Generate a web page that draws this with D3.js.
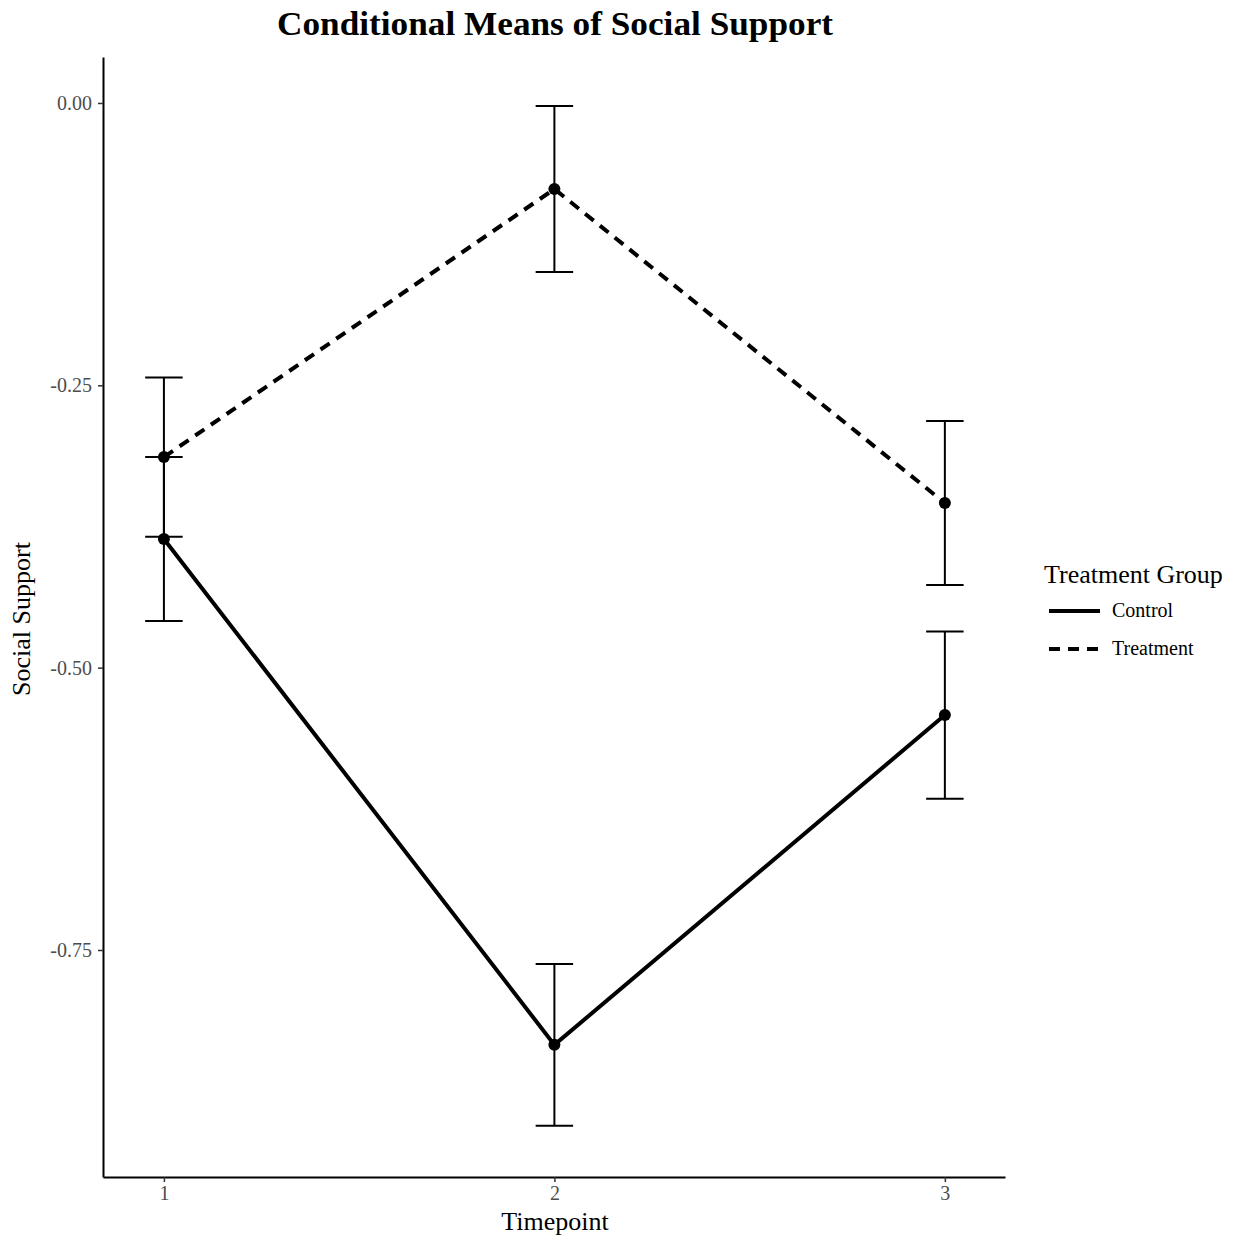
<!DOCTYPE html>
<html><head><meta charset="utf-8">
<script src="https://cdn.jsdelivr.net/npm/d3@7"></script>
<style>body{margin:0;background:#fff}svg{display:block}</style>
</head><body>
<script>
const timepoints = [1, 2, 3];
const groups = ["Control", "Treatment"];
const controlMean = [-0.386, -0.834, -0.542];
const controlSE = [0.0726, 0.0717, 0.074];
const treatmentMean = [-0.3135, -0.0762, -0.3542];
const treatmentSE = [0.0705, 0.0735, 0.0726];
const yTicks = [0, -0.25, -0.5, -0.75];
const yTickLabels = ["0.00", "-0.25", "-0.50", "-0.75"];

const W = 1239, H = 1243;
const svg = d3.select("body").append("svg").attr("width", W).attr("height", H);
const x = d3.scaleLinear().domain([0.844, 3.154]).range([103, 1005]);
const y = d3.scaleLinear().domain([-0.951, 0.0407]).range([1177, 57]);
const serif = "'Liberation Serif','Times New Roman',serif";

// axes
const xAxis = svg.append("g").attr("transform", "translate(0,1177)")
  .call(d3.axisBottom(x).tickValues(timepoints).tickFormat(d3.format("d")).tickSize(5).tickSizeOuter(0).tickPadding(4));
const yAxis = svg.append("g").attr("transform", "translate(103,0)")
  .call(d3.axisLeft(y).tickValues(yTicks).tickFormat((d, i) => yTickLabels[i]).tickSize(5).tickSizeOuter(0).tickPadding(6));
[xAxis, yAxis].forEach(g => {
  g.select(".domain").attr("stroke", "#000").attr("stroke-width", 2);
  g.selectAll(".tick line").attr("stroke", "#333").attr("stroke-width", 1.5);
  g.selectAll(".tick text").attr("fill", "#4d4d4d").style("font-family", serif).style("font-size", "20px");
});

const series = [
  {name: "Control", mean: controlMean, se: controlSE, dash: null},
  {name: "Treatment", mean: treatmentMean, se: treatmentSE, dash: "11,8"}
];
const line = d3.line().x(d => x(d.t)).y(d => y(d.m));
series.forEach(s => {
  const pts = timepoints.map((t, i) => ({t, m: s.mean[i], se: s.se[i]}));
  svg.append("path").datum(pts).attr("d", line).attr("fill", "none")
    .attr("stroke", "#000").attr("stroke-width", 4)
    .attr("stroke-dasharray", s.dash);
  const eb = svg.append("g");
  pts.forEach(p => {
    eb.append("line").attr("x1", x(p.t)).attr("x2", x(p.t)).attr("y1", y(p.m + p.se)).attr("y2", y(p.m - p.se))
      .attr("stroke", "#000").attr("stroke-width", 2);
    [p.m + p.se, p.m - p.se].forEach(v => {
      eb.append("line").attr("x1", x(p.t - 0.048)).attr("x2", x(p.t + 0.048)).attr("y1", y(v)).attr("y2", y(v))
        .attr("stroke", "#000").attr("stroke-width", 2);
    });
    svg.append("circle").attr("cx", x(p.t)).attr("cy", y(p.m)).attr("r", 6).attr("fill", "#000");
  });
});

// title
svg.append("text").attr("x", 555).attr("y", 35).attr("text-anchor", "middle")
  .style("font-family", serif).style("font-weight", "bold").style("font-size", "34px")
  .attr("textLength", 556).attr("lengthAdjust", "spacingAndGlyphs")
  .text("Conditional Means of Social Support");
// axis titles
svg.append("text").attr("x", 555).attr("y", 1230).attr("text-anchor", "middle")
  .style("font-family", serif).style("font-size", "26px").text("Timepoint");
svg.append("text").attr("transform", "translate(30,619) rotate(-90)").attr("text-anchor", "middle")
  .style("font-family", serif).style("font-size", "26px").text("Social Support");

// legend
const lg = svg.append("g");
lg.append("text").attr("x", 1044).attr("y", 583).style("font-family", serif).style("font-size", "26px").text("Treatment Group");
series.forEach((s, i) => {
  const yy = 611 + i * 38;
  lg.append("line").attr("x1", 1049).attr("x2", 1100).attr("y1", yy).attr("y2", yy)
    .attr("stroke", "#000").attr("stroke-width", 4).attr("stroke-dasharray", s.dash);
  lg.append("text").attr("x", 1112).attr("y", yy + 6).style("font-family", serif).style("font-size", "20px").text(s.name);
});
</script>
</body></html>
